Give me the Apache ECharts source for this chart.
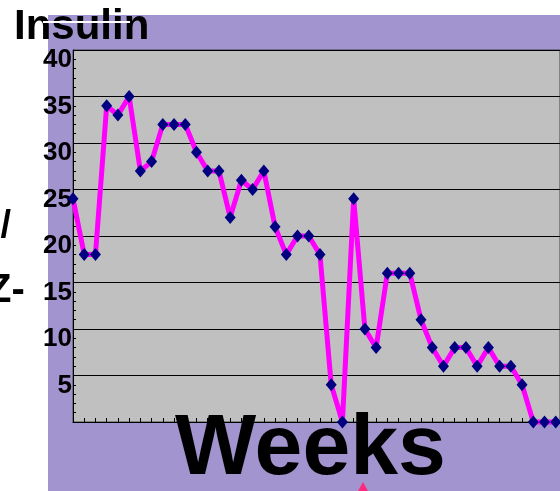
<!DOCTYPE html>
<html>
<head>
<meta charset="utf-8">
<script src="https://cdn.jsdelivr.net/npm/echarts@6/dist/echarts.min.js"></script>
<style>
html,body{margin:0;padding:0;background:#fff;}
#c{width:560px;height:491px;}
</style>
</head>
<body>
<div id="c"></div>
<script>
var weeks = [1,2,3,4,5,6,7,8,9,10,11,12,13,14,15,16,17,18,19,20,21,22,23,24,25,26,27,28,29,30,31,32,33,34,35,36,37,38,39,40,41,42,43,44];
var insulin = [24,18,18,34,33,35,27,28,32,32,32,29,27,27,22,26,25,27,21,18,20,20,18,4,0,24,10,8,16,16,16,11,8,6,8,8,6,8,6,6,4,0,0,0];
var yTicks = [0,5,10,15,20,25,30,35,40];
var titleText = 'Insulin';
var xTitle = 'Weeks';

var chart = echarts.init(document.getElementById('c'), null, {renderer:'canvas'});
var font = '"Liberation Sans", Arial, sans-serif';
chart.setOption({
  backgroundColor: '#ffffff',
  animation: false,
  graphic: [
    {type:'rect', z:-10, shape:{x:48,y:15,width:512,height:476}, style:{fill:'#a294cf'}},
    {type:'text', z:10, left:14, top:6, style:{text:titleText, font:'bold 42px '+font, fill:'#000'}},
    {type:'line', z:11, shape:{x1:43,y1:22,x2:130,y2:22}, style:{stroke:'#fff', lineWidth:2}},
    {type:'text', z:10, left:175, top:407, style:{text:xTitle, font:'bold 86px '+font, fill:'#000'}},
    {type:'text', z:10, right:549, top:208, style:{text:'/', font:'bold 38px '+font, fill:'#000', align:'right'}},
    {type:'text', z:10, left:-13, top:271, style:{text:'Z-', font:'bold 40px '+font, fill:'#000'}},
    {type:'polygon', z:10, shape:{points:[[363,482],[358,491],[368,491]]}, style:{fill:'#ff2a80'}}
  ],
  grid: {left:73, top:50, right:0, bottom:69, show:true, backgroundColor:'#c0c0c0', borderColor:'#444', borderWidth:1},
  xAxis: {
    type:'value', min:1, max:44.38, interval:1,
    axisLine:{show:true, onZero:false, lineStyle:{color:'#000', width:1}},
    axisTick:{show:true, inside:true, length:4, lineStyle:{color:'#000'}},
    axisLabel:{show:false},
    splitLine:{show:false}
  },
  yAxis: {
    type:'value', min:yTicks[0], max:yTicks[yTicks.length-1], interval:5,
    axisLine:{show:true, lineStyle:{color:'#000', width:1}},
    axisTick:{show:true, inside:true, length:4, lineStyle:{color:'#000'}},
    minorTick:{show:true, splitNumber:5, length:3, lineStyle:{color:'#000'}},
    splitLine:{show:true, lineStyle:{color:'#000', width:1}},
    axisLabel:{
      color:'#000', fontWeight:'bold', fontSize:26, fontFamily:font, margin:1,
      verticalAlign:'top', lineHeight:20,
      formatter:function(v){ return v===0 ? '' : String(v); }
    }
  },
  series: [{
    type:'line',
    data: weeks.map(function(w,i){ return [w, insulin[i]]; }),
    lineStyle:{color:'#ff00ff', width:5},
    itemStyle:{color:'#000080'},
    symbol:'diamond', symbolSize:[11,13],
    showSymbol:true,
    clip:false,
    z:3
  }]
});
</script>
</body>
</html>
